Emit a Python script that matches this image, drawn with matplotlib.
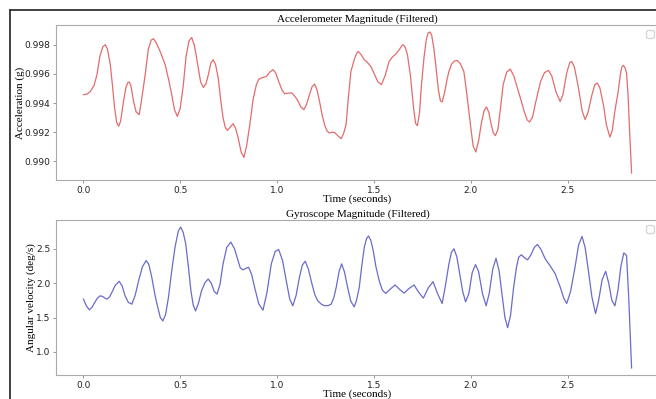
import matplotlib
matplotlib.use("Agg")
import matplotlib.pyplot as plt
from matplotlib.lines import Line2D

# Accelerometer magnitude (g)
acc_t = [0.0, 0.02, 0.036, 0.055, 0.07, 0.085, 0.1, 0.113, 0.124, 0.139,
         0.15, 0.161, 0.172, 0.182, 0.192, 0.207, 0.22, 0.23, 0.237, 0.245,
         0.259, 0.272, 0.288, 0.3, 0.319, 0.335, 0.35, 0.362, 0.375, 0.396,
         0.422, 0.44, 0.456, 0.47, 0.485, 0.5, 0.516, 0.53, 0.545, 0.559,
         0.572, 0.583, 0.593, 0.605, 0.619, 0.632, 0.645, 0.658, 0.67, 0.682,
         0.696, 0.708, 0.721, 0.733, 0.744, 0.758, 0.773, 0.786, 0.799, 0.815,
         0.829, 0.843, 0.859, 0.876, 0.893, 0.905, 0.919, 0.945, 0.962, 0.979,
         0.993, 1.008, 1.025, 1.039, 1.058, 1.076, 1.09, 1.104, 1.122, 1.138,
         1.152, 1.167, 1.18, 1.193, 1.205, 1.219, 1.232, 1.245, 1.258, 1.27,
         1.283, 1.296, 1.312, 1.33, 1.343, 1.356, 1.368, 1.381, 1.398, 1.41,
         1.419, 1.432, 1.45, 1.465, 1.484, 1.5, 1.52, 1.539, 1.558, 1.578,
         1.595, 1.613, 1.63, 1.645, 1.652, 1.662, 1.673, 1.688, 1.705, 1.715,
         1.724, 1.735, 1.745, 1.758, 1.77, 1.78, 1.789, 1.798, 1.808, 1.819,
         1.832, 1.843, 1.852, 1.865, 1.877, 1.887, 1.9, 1.915, 1.93, 1.945,
         1.964, 1.98, 1.998, 2.012, 2.026, 2.04, 2.055, 2.068, 2.081, 2.093,
         2.105, 2.116, 2.127, 2.14, 2.155, 2.167, 2.185, 2.204, 2.222, 2.24,
         2.256, 2.275, 2.29, 2.303, 2.318, 2.335, 2.36, 2.38, 2.401, 2.418,
         2.44, 2.461, 2.475, 2.495, 2.51, 2.521, 2.535, 2.555, 2.575, 2.59,
         2.605, 2.625, 2.64, 2.653, 2.666, 2.685, 2.7, 2.718, 2.73, 2.745,
         2.761, 2.772, 2.78, 2.787, 2.795, 2.804, 2.812, 2.82, 2.83]
acc_g = [0.99457, 0.99462, 0.9948, 0.9952, 0.99594, 0.9972, 0.99785, 0.998, 0.9977, 0.99663,
         0.9952, 0.99366, 0.99265, 0.9924, 0.99275, 0.99411, 0.9951, 0.9954, 0.99544, 0.9952,
         0.9941, 0.9934, 0.9932, 0.9942, 0.99594, 0.9977, 0.99832, 0.99841, 0.99815, 0.99754,
         0.99663, 0.9956, 0.99457, 0.99355, 0.99308, 0.99365, 0.99526, 0.9972, 0.99825, 0.9985,
         0.998, 0.9972, 0.9964, 0.99545, 0.99507, 0.9953, 0.99594, 0.99675, 0.99697, 0.99665,
         0.99572, 0.9943, 0.99297, 0.9923, 0.99212, 0.99235, 0.99258, 0.99225, 0.9916, 0.9906,
         0.99027, 0.9911, 0.99251, 0.99425, 0.99526, 0.99562, 0.99572, 0.99583, 0.99612, 0.99629,
         0.99605, 0.99548, 0.9949, 0.99464, 0.99468, 0.99469, 0.99448, 0.99423, 0.99375, 0.99354,
         0.9939, 0.99457, 0.9951, 0.9953, 0.99495, 0.99411, 0.9932, 0.99251, 0.99208, 0.99194,
         0.992, 0.99198, 0.99178, 0.99155, 0.9919, 0.99251, 0.9944, 0.99617, 0.99697, 0.9974,
         0.99754, 0.99735, 0.99697, 0.9968, 0.99651, 0.99605, 0.99545, 0.99526, 0.9959, 0.99685,
         0.99715, 0.99736, 0.99765, 0.99795, 0.998, 0.9978, 0.99731, 0.9959, 0.9936, 0.9926,
         0.99244, 0.9933, 0.9952, 0.99709, 0.99835, 0.99882, 0.99887, 0.99865, 0.99785, 0.99663,
         0.99495, 0.99415, 0.99407, 0.99475, 0.9956, 0.99617, 0.99665, 0.99688, 0.99692, 0.99672,
         0.99617, 0.99455, 0.99251, 0.99105, 0.99064, 0.9914, 0.99265, 0.99345, 0.99373, 0.99335,
         0.99255, 0.99195, 0.99176, 0.9922, 0.99385, 0.99526, 0.99612, 0.99633, 0.99585, 0.99505,
         0.99434, 0.99345, 0.99285, 0.9927, 0.993, 0.99405, 0.99548, 0.99608, 0.99624, 0.99585,
         0.99475, 0.99411, 0.99455, 0.99605, 0.99675, 0.99685, 0.99645, 0.9951, 0.99345, 0.99286,
         0.99335, 0.99455, 0.99525, 0.99537, 0.99505, 0.99385, 0.9925, 0.99166, 0.9921, 0.99355,
         0.9948, 0.99595, 0.99648, 0.99658, 0.99645, 0.99606, 0.9945, 0.992, 0.9892]

# Gyroscope magnitude (deg/s)
gyr_t = [0.0, 0.015, 0.031, 0.045, 0.058, 0.072, 0.087, 0.1, 0.112, 0.122,
         0.135, 0.147, 0.165, 0.185, 0.2, 0.215, 0.232, 0.25, 0.267, 0.285,
         0.305, 0.324, 0.338, 0.353, 0.37, 0.384, 0.397, 0.41, 0.424, 0.439,
         0.456, 0.473, 0.49, 0.502, 0.515, 0.528, 0.542, 0.555, 0.567, 0.579,
         0.593, 0.61, 0.628, 0.644, 0.66, 0.675, 0.69, 0.705, 0.721, 0.74,
         0.761, 0.78, 0.798, 0.81, 0.824, 0.838, 0.853, 0.868, 0.884, 0.905,
         0.927, 0.948, 0.97, 0.99, 1.008, 1.028, 1.047, 1.065, 1.081, 1.098,
         1.115, 1.13, 1.145, 1.162, 1.18, 1.195, 1.21, 1.23, 1.248, 1.265,
         1.279, 1.293, 1.305, 1.32, 1.333, 1.348, 1.364, 1.38, 1.398, 1.41,
         1.424, 1.437, 1.45, 1.462, 1.472, 1.484, 1.496, 1.51, 1.527, 1.543,
         1.561, 1.585, 1.609, 1.632, 1.656, 1.68, 1.707, 1.73, 1.755, 1.78,
         1.805, 1.828, 1.852, 1.868, 1.887, 1.9, 1.913, 1.928, 1.943, 1.958,
         1.973, 1.99, 2.007, 2.024, 2.04, 2.06, 2.079, 2.095, 2.113, 2.13,
         2.146, 2.161, 2.176, 2.19, 2.205, 2.221, 2.235, 2.247, 2.261, 2.277,
         2.293, 2.31, 2.328, 2.344, 2.362, 2.384, 2.41, 2.436, 2.462, 2.48,
         2.495, 2.515, 2.538, 2.556, 2.574, 2.59, 2.607, 2.625, 2.644, 2.66,
         2.678, 2.696, 2.712, 2.728, 2.744, 2.76, 2.775, 2.79, 2.804, 2.815,
         2.83]
gyr_v = [1.768, 1.67, 1.611, 1.65, 1.718, 1.78, 1.816, 1.805, 1.78, 1.768,
         1.8, 1.865, 1.97, 2.026, 1.96, 1.816, 1.72, 1.694, 1.82, 2.036,
         2.24, 2.329, 2.27, 2.084, 1.82, 1.645, 1.5, 1.45, 1.54, 1.791,
         2.18, 2.523, 2.76, 2.816, 2.74, 2.573, 2.24, 1.889, 1.68, 1.596,
         1.7, 1.889, 2.01, 2.06, 2.0, 1.88, 1.841, 1.98, 2.28, 2.52,
         2.597, 2.5, 2.329, 2.22, 2.192, 2.215, 2.231, 2.13, 1.938, 1.7,
         1.606, 1.87, 2.28, 2.46, 2.49, 2.33, 2.036, 1.77, 1.67, 1.82,
         2.084, 2.26, 2.319, 2.2, 1.987, 1.83, 1.743, 1.69, 1.67, 1.675,
         1.694, 1.79, 1.938, 2.17, 2.28, 2.16, 1.938, 1.74, 1.655, 1.75,
         1.938, 2.25, 2.523, 2.65, 2.685, 2.62, 2.475, 2.24, 2.036, 1.9,
         1.85, 1.915, 1.973, 1.91, 1.855, 1.92, 1.973, 1.87, 1.782, 1.93,
         2.021, 1.85, 1.703, 1.95, 2.28, 2.45, 2.5, 2.38, 2.134, 1.88,
         1.728, 1.85, 2.15, 2.27, 2.17, 1.85, 1.67, 1.85, 2.2, 2.362,
         2.18, 1.841, 1.5, 1.352, 1.53, 1.938, 2.22, 2.377, 2.412, 2.37,
         2.339, 2.41, 2.52, 2.563, 2.49, 2.354, 2.25, 2.134, 1.938, 1.78,
         1.703, 1.88, 2.231, 2.55, 2.68, 2.52, 2.182, 1.8, 1.557, 1.75,
         2.05, 2.172, 2.0, 1.75, 1.67, 1.9, 2.25, 2.441, 2.402, 1.8,
         0.766]

serif = "Liberation Serif"

fig = plt.figure(figsize=(6.56, 3.99), dpi=100)

# frame of the screenshot
fig.add_artist(Line2D([10 / 656, 10 / 656], [0, 1 - 10 / 399], transform=fig.transFigure, color="#333333", lw=1.3))
fig.add_artist(Line2D([10 / 656, 1], [1 - 10 / 399, 1 - 10 / 399], transform=fig.transFigure, color="#333333", lw=1.3))

ax1 = fig.add_axes([56 / 656, 1 - 180 / 399, 603 / 656, 155 / 399])
ax2 = fig.add_axes([56 / 656, 1 - 375 / 399, 603 / 656, 155 / 399])

panels = [
    (ax1, acc_t, acc_g, "#e36c6c", "Accelerometer Magnitude (Filtered)", "Acceleration (g)"),
    (ax2, gyr_t, gyr_v, "#6b6bcb", "Gyroscope Magnitude (Filtered)", "Angular velocity (deg/s)"),
]

for ax, t, v, col, title, ylab in panels:
    ax.plot(t, v, color=col, lw=0.9, solid_joinstyle="round")
    ax.set_title(title, fontfamily=serif, fontsize=8, pad=2)
    ax.set_xlabel("Time (seconds)", fontfamily=serif, fontsize=8, labelpad=0)
    ax.set_ylabel(ylab, fontfamily=serif, fontsize=8, labelpad=0)
    for s in ax.spines.values():
        s.set_color("#aaaaaa")
        s.set_linewidth(0.8)
    ax.tick_params(labelsize=6.5, length=2.5, width=0.6, color="#888888", labelcolor="#222222", pad=1.5)
    ax.legend(handles=[], loc="upper right", fontsize=7)

ax1.set_yticks([0.990, 0.992, 0.994, 0.996, 0.998])
ax1.set_yticklabels(["0.990", "0.992", "0.994", "0.996", "0.998"])
ax2.set_yticks([1.0, 1.5, 2.0, 2.5])

fig.savefig("out.png", dpi=100)
